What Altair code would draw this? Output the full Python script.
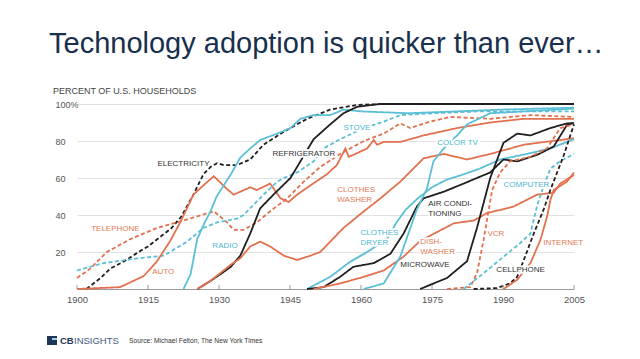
import altair as alt
import pandas as pd

# ---------------- data ----------------
electricity_years = [1902, 1905, 1907, 1910, 1913, 1915, 1918, 1920, 1922, 1924.6, 1926.7, 1928.2, 1929.6, 1931, 1933.8, 1936.6, 1939.4, 1943.7, 1948.6, 1953.5, 1959.2, 1965, 2005]
electricity_pct = [0, 6, 11, 15, 20, 23, 29, 33, 39, 51, 62, 66, 68, 67, 67, 70, 78, 85, 92, 97, 99.5, 100, 100]

telephone_years = [1900, 1902.8, 1906.3, 1911.3, 1916.9, 1922.5, 1928.9, 1931.7, 1933.1, 1935.2, 1938.0, 1940.8, 1944.4, 1947.9, 1951.4, 1955.6, 1960.6, 1964.8, 1968.3, 1970.4, 1974.6, 1978.9, 1987.3, 1995.8, 2005]
telephone_pct = [6, 11, 20, 27, 33, 37, 42, 36, 32, 32, 36, 42, 49, 58, 66, 73, 80, 84, 89.5, 87, 90.5, 93, 92, 94, 93]

stove_years = [1900, 1905.6, 1912.7, 1918.3, 1923.2, 1926.7, 1929.6, 1933.8, 1935.2, 1939.4, 1942.3, 1943.7, 1946.5, 1950, 1952.1, 1955.6, 1960.6, 1964.8, 1968.3, 1975, 1985, 1995, 2005]
stove_pct = [10, 14, 16.5, 18, 25.5, 33, 36, 38, 40, 51, 58, 60, 63, 69, 76, 81, 87, 90.5, 94, 95, 96, 96, 96]

auto_years = [1900, 1909.1, 1914.1, 1916.9, 1919.7, 1921.8, 1924.6, 1926.7, 1928.9, 1931.7, 1933.1, 1936.6, 1938.0, 1940.8, 1943.0, 1944.7, 1946.5, 1949.3, 1952.8, 1954.9, 1956.7, 1957.4, 1958.4, 1961.3, 1962.7, 1963.4, 1964.8, 1968.3, 1973.2, 1980.3, 1987.3, 1994.4, 2005]
auto_pct = [0, 1, 7, 15, 26, 36, 51, 56, 61, 54, 51, 55, 53.5, 57, 49, 47, 51, 56, 62, 67, 76, 71.5, 72.5, 76, 80.5, 78, 79.5, 79.5, 83, 87, 90, 92, 92]

radio_years = [1922.5, 1924, 1925.4, 1927, 1928.2, 1929.5, 1931, 1932.5, 1934.5, 1936.6, 1938.7, 1942.3, 1945.1, 1947.2, 1950, 1953.5, 1956.3, 1960, 1970, 1980, 1990, 2005]
radio_pct = [0, 8, 27, 36, 42, 50, 56, 62, 71, 76, 80.5, 84, 87, 92, 94, 94, 97, 96, 95, 96, 97, 98]

refrigerator_years = [1925.4, 1928, 1930.3, 1932.5, 1934.5, 1936.6, 1938.7, 1941.5, 1945.1, 1947.2, 1950.0, 1953.5, 1956.3, 1959.2, 1964, 2005]
refrigerator_pct = [0, 4, 8, 12, 18, 30, 43.6, 51, 60, 69, 81, 89, 95, 98.5, 100, 100]

washer_years = [1925.4, 1928, 1930, 1932.4, 1934.5, 1936.6, 1938.7, 1940.8, 1943.7, 1946.5, 1949.3, 1951.4, 1953.5, 1956.3, 1960.6, 1964.1, 1968.3, 1973.2, 1977.5, 1982.4, 1987.3, 1994.4, 2005]
washer_pct = [0, 4, 8, 13, 16.6, 23, 25.6, 23, 18, 15.7, 18, 20, 25.6, 33, 42, 49, 58, 70.6, 73, 70, 73, 78, 81.5]

dryer_years = [1948.6, 1953.5, 1957.7, 1961.3, 1965.5, 1967.5, 1969.5, 1972, 1975, 1978, 1981.7, 1985, 1989.4, 1995, 2000, 2005]
dryer_pct = [0, 6.6, 14.7, 20, 27, 36, 43, 49, 55, 59, 62, 65, 70, 73, 76, 81]

aircon_years = [1948.6, 1952.1, 1955.6, 1958.4, 1962.7, 1966.2, 1969.0, 1971.8, 1973.2, 1977.5, 1981.7, 1987.3, 1990.1, 1993.0, 1997.2, 2000.7, 2003.5, 2005]
aircon_pct = [0, 1, 6.6, 12, 14, 19, 30, 44.5, 49, 52.6, 57, 63, 70, 69, 72.5, 77, 88.6, 89.7]

dishwasher_years = [1950, 1955.6, 1960.6, 1964.8, 1969.0, 1972.5, 1979.6, 1983.8, 1986.6, 1992.2, 1997.2, 2000.7, 2002.1, 2005]
dishwasher_pct = [0, 3, 6.6, 10, 17.5, 26, 35.5, 37, 41, 44.5, 51, 52, 57, 61.6]

colortv_years = [1960.6, 1964.8, 1968.3, 1971.8, 1973.9, 1975.3, 1977.5, 1980.3, 1982.4, 1987.3, 1994.4, 2005]
colortv_pct = [0, 3, 17.5, 43, 54, 69, 76, 83, 89, 95, 96, 97.5]

microwave_years = [1972.5, 1978.2, 1982.4, 1984.5, 1987.3, 1990.1, 1993.0, 1995.8, 2000.0, 2003.5, 2005]
microwave_pct = [0, 6, 15, 33, 60, 79, 84, 83, 87, 89.5, 89.7]

vcr_years = [1978.2, 1983.1, 1984.5, 1985.9, 1987.0, 1987.7, 1989.4, 1991.5, 1995.8, 1999.3, 2002.1, 2005]
vcr_pct = [0, 1, 8.5, 26.5, 43, 53.5, 63, 69, 71.5, 76, 87, 89]

computer_years = [1981.7, 1986.6, 1993.7, 1995.8, 1997.2, 1998.5, 2000.0, 2002.0, 2005]
computer_pct = [0, 10, 25, 30, 45, 55, 65, 69, 73]

cellphone_years = [1983.8, 1988.7, 1991.5, 1993.0, 1994.4, 1996.5, 1998.6, 2000.0, 2002.8, 2005]
cellphone_pct = [0, 0.5, 3, 6.6, 15.7, 30, 43, 53.5, 72, 89]

internet_years = [1990.1, 1993.0, 1995.8, 1997.9, 1999.3, 2000.0, 2000.7, 2003.5, 2005]
internet_pct = [0, 5, 14, 26.5, 39, 48, 53.5, 58, 63]

series_names = ["Electricity", "Telephone", "Stove", "Auto", "Radio", "Refrigerator",
                "Clothes washer", "Clothes dryer", "Air conditioning", "Dishwasher",
                "Color TV", "Microwave", "VCR", "Computer", "Cellphone", "Internet"]
series_years = [electricity_years, telephone_years, stove_years, auto_years, radio_years,
                refrigerator_years, washer_years, dryer_years, aircon_years, dishwasher_years,
                colortv_years, microwave_years, vcr_years, computer_years, cellphone_years,
                internet_years]
series_pct = [electricity_pct, telephone_pct, stove_pct, auto_pct, radio_pct,
              refrigerator_pct, washer_pct, dryer_pct, aircon_pct, dishwasher_pct,
              colortv_pct, microwave_pct, vcr_pct, computer_pct, cellphone_pct,
              internet_pct]

x_ticks = [1900, 1915, 1930, 1945, 1960, 1975, 1990, 2005]
y_ticks = [20, 40, 60, 80, 100]

label_texts = ["TELEPHONE", "AUTO", "RADIO", "ELECTRICITY", "REFRIGERATOR", "STOVE",
               "CLOTHES\nWASHER", "COLOR TV", "AIR CONDI-\nTIONING", "CLOTHES\nDRYER",
               "COMPUTER", "DISH-\nWASHER", "VCR", "INTERNET", "MICROWAVE", "CELLPHONE"]
label_years = [1903.0, 1915.9, 1928.6, 1917.0, 1941.3, 1956.3, 1955.0, 1976.1, 1974.2,
               1959.9, 1990.1, 1972.5, 1986.7, 1998.5, 1968.3, 1988.6]
label_pct = [32.7, 9.2, 23.2, 67.6, 73.0, 86.8, 53.5, 79.0, 45.9, 30.5, 56.2, 25.4,
             29.7, 24.9, 13.0, 10.3]
label_series = ["Telephone", "Auto", "Radio", "Electricity", "Refrigerator", "Stove",
                "Clothes washer", "Color TV", "Air conditioning", "Clothes dryer",
                "Computer", "Dishwasher", "VCR", "Internet", "Microwave", "Cellphone"]

# ---------------- styles ----------------
BLACK, ORANGE, BLUE = "#1f1f1f", "#e2714f", "#5bbfd6"
TXT_BLACK, TXT_ORANGE, TXT_BLUE = "#333333", "#e07a55", "#4db6cf"
style = {
    "Electricity": (BLACK, True), "Telephone": (ORANGE, True), "Stove": (BLUE, True),
    "Auto": (ORANGE, False), "Radio": (BLUE, False), "Refrigerator": (BLACK, False),
    "Clothes washer": (ORANGE, False), "Clothes dryer": (BLUE, False),
    "Air conditioning": (BLACK, False), "Dishwasher": (ORANGE, False),
    "Color TV": (BLUE, False), "Microwave": (BLACK, False), "VCR": (ORANGE, True),
    "Computer": (BLUE, True), "Cellphone": (BLACK, True), "Internet": (ORANGE, False),
}
txt_color = {BLACK: TXT_BLACK, ORANGE: TXT_ORANGE, BLUE: TXT_BLUE}

rows = []
for name, ys, ps in zip(series_names, series_years, series_pct):
    for i, (yr, p) in enumerate(zip(ys, ps)):
        rows.append({"series": name, "year": yr, "pct": p, "idx": i})
df = pd.DataFrame(rows)

lab = pd.DataFrame({"text": label_texts, "year": label_years, "pct": label_pct,
                    "color": [txt_color[style[s][0]] for s in label_series]})
ticks_df = pd.DataFrame({"year": x_ticks})

W, H = 497, 185
xscale = alt.Scale(domain=[1900, 2005], nice=False, zero=False)
yscale = alt.Scale(domain=[0, 100], nice=False, zero=False)

lines = alt.Chart(df).mark_line(strokeWidth=1.8, strokeCap="butt").encode(
    x=alt.X("year:Q", scale=xscale,
            axis=alt.Axis(values=x_ticks, format="d", title=None, grid=False, ticks=False,
                          labelFlush=False, labelFontSize=9.5, labelColor="#555555",
                          labelFont="Liberation Sans",
                          labelPadding=5, domainColor="#9a9a9a", domainWidth=1)),
    y=alt.Y("pct:Q", scale=yscale,
            axis=alt.Axis(values=y_ticks, title=None, ticks=False, domain=False,
                          labelExpr="datum.value == 100 ? '100%' : datum.label",
                          labelAlign="left", labelBaseline="middle", labelPadding=22,
                          labelFontSize=9, labelColor="#555555", labelFont="Liberation Sans",
                          gridColor="#e2e2e2", gridWidth=1)),
    color=alt.Color("series:N", legend=None,
                    scale=alt.Scale(domain=series_names,
                                    range=[style[s][0] for s in series_names])),
    strokeDash=alt.StrokeDash("series:N", legend=None,
                              scale=alt.Scale(domain=series_names,
                                              range=[[4, 2.5] if style[s][1] else [1, 0]
                                                     for s in series_names])),
    detail="series:N",
    order="idx:Q",
)

tick_marks = alt.Chart(ticks_df).mark_rule(color="#9a9a9a", strokeWidth=1).encode(
    x=alt.X("year:Q", scale=xscale), y=alt.datum(0), y2=alt.datum(2.2))

label_halo = alt.Chart(lab).mark_text(align="left", baseline="middle", fontSize=8,
                                      font="Liberation Sans", lineBreak="\n",
                                      lineHeight=10, color="white", stroke="white",
                                      strokeWidth=3.5, strokeJoin="round").encode(
    x=alt.X("year:Q", scale=xscale), y=alt.Y("pct:Q", scale=yscale), text="text:N")

labels = alt.Chart(lab).mark_text(align="left", baseline="middle", fontSize=8,
                                  font="Liberation Sans", lineBreak="\n",
                                  lineHeight=10).encode(
    x=alt.X("year:Q", scale=xscale), y=alt.Y("pct:Q", scale=yscale),
    text="text:N", color=alt.Color("color:N", scale=None))

one = pd.DataFrame({"a": [0]})
main_title = alt.Chart(one).mark_text(
    align="left", baseline="alphabetic", fontSize=29, font="Liberation Sans",
    color="#18304d").encode(x=alt.value(-28), y=alt.value(-51),
                            text=alt.value("Technology adoption is quicker than ever…"))
y_title = alt.Chart(one).mark_text(
    align="left", baseline="middle", fontSize=9, font="Liberation Sans",
    color="#444444").encode(x=alt.value(-24), y=alt.value(-13),
                            text=alt.value("PERCENT OF U.S. HOUSEHOLDS"))
logo_box = alt.Chart(one).mark_rect(color="#1d3557").encode(
    x=alt.value(-30), x2=alt.value(-20), y=alt.value(232), y2=alt.value(241))
logo_stripe = alt.Chart(one).mark_rect(color="#9ecbe6").encode(
    x=alt.value(-25), x2=alt.value(-20), y=alt.value(234), y2=alt.value(236))
logo_cb = alt.Chart(one).mark_text(
    align="left", baseline="middle", fontSize=9.5, font="Liberation Sans",
    fontWeight="bold", color="#1d3557").encode(
    x=alt.value(-17), y=alt.value(237), text=alt.value("CB"))
logo_ins = alt.Chart(one).mark_text(
    align="left", baseline="middle", fontSize=9.5, font="Liberation Sans",
    color="#3d5a7a").encode(
    x=alt.value(-3), y=alt.value(237), text=alt.value("INSIGHTS"))
source = alt.Chart(one).mark_text(
    align="left", baseline="middle", fontSize=6.7, font="Liberation Sans",
    color="#333333").encode(
    x=alt.value(52), y=alt.value(237),
    text=alt.value("Source: Michael Felton, The New York Times"))

chart = alt.layer(
    lines, tick_marks, label_halo, labels, main_title, y_title,
    logo_box, logo_stripe, logo_cb, logo_ins, source
).properties(
    width=W, height=H,
    autosize=alt.AutoSizeParams(type="none"),
    padding={"left": 69, "top": 96, "right": 58, "bottom": 62},
    background="white",
).configure_view(stroke=None)

chart.save("out.html", embed_options={"renderer": "svg", "actions": False})
